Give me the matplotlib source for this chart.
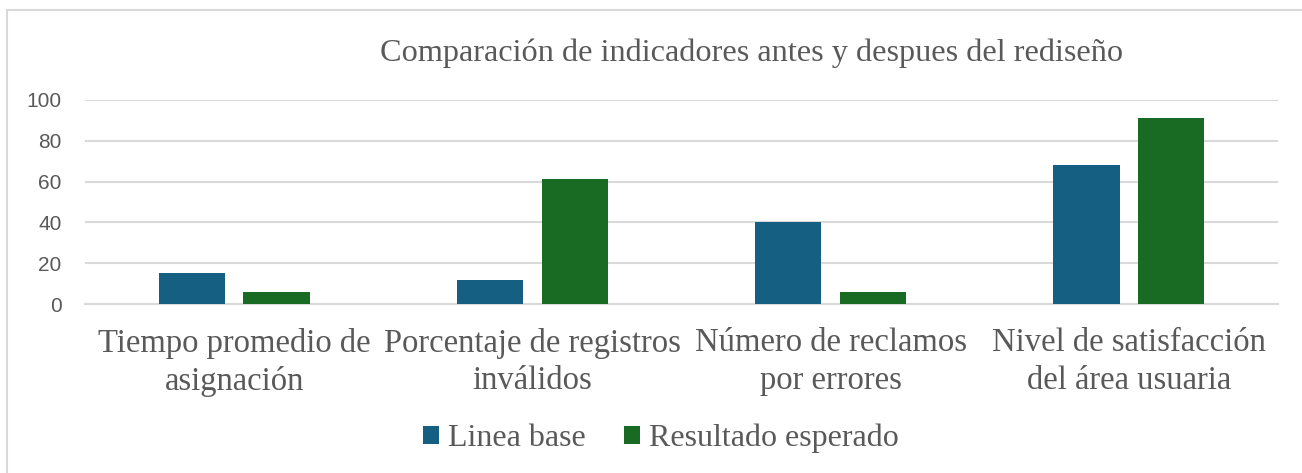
import numpy as np
import matplotlib.pyplot as plt
from matplotlib.patches import Rectangle

categorias = ['Tiempo promedio de\nasignación',
              'Porcentaje de registros\ninválidos',
              'Número de reclamos\npor errores',
              'Nivel de satisfacción\ndel área usuaria']
linea_base = [15, 12, 40, 68]
resultado_esperado = [6, 61, 6, 91]

azul = '#156082'
verde = '#196b24'
gris = '#595959'

fig = plt.figure(figsize=(13.02, 4.73), dpi=100)
ax = fig.add_axes([0.0653, 0.357, 0.9163, 0.432])

x = np.arange(len(categorias))
w = 0.222
ax.bar(x - 0.142, linea_base, w, color=azul, label='Linea base', zorder=3)
ax.bar(x + 0.142, resultado_esperado, w, color=verde, label='Resultado esperado', zorder=3)

ax.set_xlim(-0.5, 3.5)
ax.set_ylim(0, 100)
ax.set_yticks([0, 20, 40, 60, 80, 100])
ax.yaxis.grid(True, color='#d9d9d9', linewidth=1.5, zorder=0)
for s in ['top', 'right', 'left']:
    ax.spines[s].set_visible(False)
ax.spines['bottom'].set_color('#d9d9d9')
ax.spines['bottom'].set_linewidth(1.5)
ax.tick_params(axis='both', length=0)
ax.tick_params(axis='y', pad=17)
ax.tick_params(axis='x', pad=17)

ax.set_xticks(x)
ax.set_xticklabels(categorias, fontfamily='Liberation Serif', fontsize=23.5,
                   color=gris, linespacing=1.3)
for lbl in ax.get_yticklabels():
    lbl.set_fontfamily('Liberation Sans')
    lbl.set_fontsize(15)
    lbl.set_color(gris)

fig.text(0.577, 0.887, 'Comparación de indicadores antes y despues del rediseño',
         ha='center', va='center', fontfamily='Liberation Serif',
         fontsize=23.2, color=gris)

fig.legend(loc='center', bbox_to_anchor=(0.5077, 0.073), ncol=2, frameon=False,
           prop={'family': 'Liberation Serif', 'size': 23}, labelcolor=gris,
           handlelength=0.5, handleheight=0.5, handletextpad=0.28, columnspacing=1.2)

# marco del grafico
fig.patches.append(Rectangle((7 / 1302, -0.1), 1.2, 1 - 10 / 473 + 0.1,
                             transform=fig.transFigure, fill=False,
                             edgecolor='#d9d9d9', linewidth=1.5))

fig.savefig('out.png', dpi=100)
